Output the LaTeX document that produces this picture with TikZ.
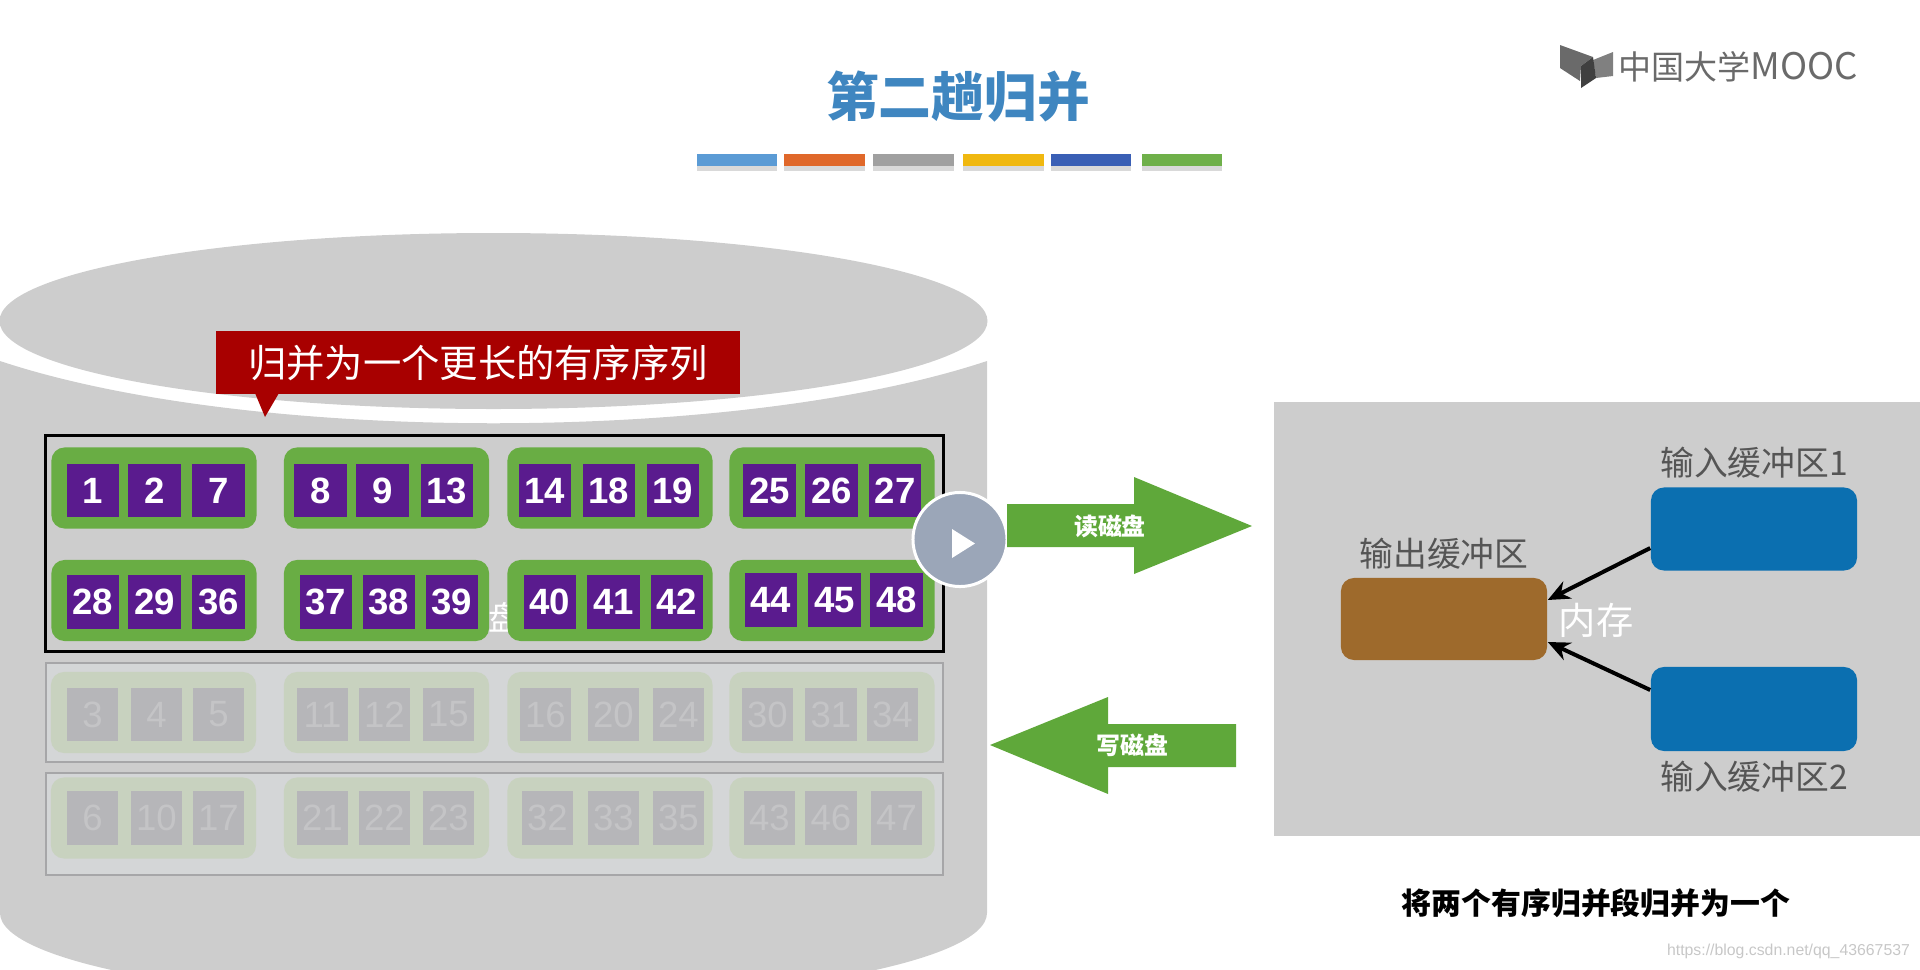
\documentclass[tikz,border=0pt]{standalone}
\usepackage{fontspec}
\setmainfont{Liberation Sans}
\newfontfamily\cjk{Noto Sans CJK SC}
\usetikzlibrary{positioning, arrows.meta, shadows}
\definecolor{diskgray}{HTML}{CDCDCD}
\definecolor{cellpurple}{HTML}{5A1B8E}
\definecolor{groupgreen}{HTML}{69AD44}
\definecolor{arrowgreen}{HTML}{5FA83A}
\definecolor{fadegreen}{HTML}{C8D2BF}
\definecolor{fadecell}{HTML}{B6B6B9}
\definecolor{fadetext}{HTML}{C4C4C6}
\definecolor{fadebox}{HTML}{D4D6D7}
\definecolor{fadeline}{HTML}{A6A6A8}
\definecolor{calloutred}{HTML}{A80000}
\definecolor{titleblue}{HTML}{3F86C0}
\definecolor{bufblue}{HTML}{0B6FB0}
\definecolor{bufbrown}{HTML}{9E6A2C}
\definecolor{labelgray}{HTML}{555555}
\definecolor{logogray}{HTML}{6A6A6A}
\definecolor{playgray}{HTML}{9BA6B8}
\tikzset{
    cellbox/.style={fill=cellpurple, text=white, minimum width=0.52cm, minimum height=0.53cm, inner sep=0pt, font=\bfseries\fontsize{10.4}{12}\selectfont},
    fadecellbox/.style={fill=fadecell, text=fadetext, minimum width=0.51cm, minimum height=0.53cm, inner sep=0pt, font=\fontsize{10.4}{12}\selectfont},
    groupbox/.style={fill=groupgreen, rounded corners=0.13cm, minimum width=2.05cm, minimum height=0.81cm, inner sep=0pt},
    fadegroupbox/.style={groupbox, fill=fadegreen},
    bufbox/.style={rounded corners=0.13cm, minimum width=2.06cm, minimum height=0.83cm, inner sep=0pt},
    buflabel/.style={text=labelgray, inner sep=0pt, font=\cjk\fontsize{9.6}{11}\selectfont},
    arrowlabel/.style={text=white, inner sep=0pt, font=\cjk\bfseries\fontsize{6.8}{8}\selectfont},
    barbox/.style={minimum width=0.8cm, minimum height=0.12cm, inner sep=0pt, general shadow={fill=black, opacity=0.15, shadow yshift=-0.05cm}},
}
\begin{document}
\begin{tikzpicture}[x=0.01cm, y=-0.01cm]
    \useasboundingbox (0,0) rectangle (1920,969);
    \clip (0,0) rectangle (1920,969);

    % title and colour bars
    \node[text=titleblue, inner sep=0pt, font=\cjk\bfseries\fontsize{15}{16}\selectfont] (title) at (958,97) {第二趟归并};
    \foreach \barname/\nx/\col in {a/737/5B9BD5, b/824.5/E0682A, c/913.5/A0A0A0, d/1003.5/F0B810, e/1091/3A5FB5, f/1182/6FB04A} {
        \definecolor{barcol}{HTML}{\col}
        \node[barbox, fill=barcol] (bar\barname) at (\nx,160) {};
    }

    % logo
    \fill[logogray] (1560,45) -- (1593,57) -- (1581,66) -- (1580,81) -- (1560,68) -- cycle;
    \fill[logogray!85] (1593,60) -- (1613,52) -- (1613,76) -- (1596,78) -- cycle;
    \fill[black!75] (1593,57) -- (1581,66) -- (1581,88) -- (1596,78) -- cycle;
    \node[text=logogray, inner sep=0pt, anchor=west, font=\cjk\fontsize{9.4}{11}\selectfont] (logo) at (1618,67) {中国大学{\fontsize{10.4}{11}\selectfont MOOC}};

    % disk
    \fill[diskgray] (0,361) .. controls (250,444) and (737,444) .. (987,361) -- (987,913) arc[start angle=0, end angle=180, x radius=493.5, y radius=90] -- cycle;
    \fill[diskgray] (493.5,321) ellipse [x radius=494, y radius=88];

    % callout
    \fill[calloutred] (255,393) -- (265,417) -- (279,393) -- cycle;
    \node[fill=calloutred, text=white, minimum width=5.24cm, minimum height=0.63cm, inner sep=0pt, font=\cjk\fontsize{10.9}{12}\selectfont] (callout) at (478,362.5) {归并为一个更长的有序序列};

    % faded runs
    \node[fill=fadebox, draw=fadeline, line width=0.02cm, minimum width=8.97cm, minimum height=0.99cm] (run2) at (494.5,712.5) {};
    \node[fill=fadebox, draw=fadeline, line width=0.02cm, minimum width=8.97cm, minimum height=1.02cm] (run3) at (494.5,824) {};
    \foreach \nx/\ny in {153.5/712.5, 386.5/712.5, 610/712.5, 832/712.5, 153.5/818, 386.5/818, 610/818, 832/818}
        \node[fadegroupbox] at (\nx,\ny) {};
    \foreach \nx/\lab in {92.5/3, 156.5/4, 218.5/5, 322.5/11, 384.5/12, 448.5/15, 545.5/16, 613.5/20, 678.5/24, 767.5/30, 831/31, 892.5/34}
        \node[fadecellbox] (c\lab) at (\nx,714.5) {\lab};
    \foreach \nx/\lab in {92.5/6, 156.5/10, 218.5/17, 322.5/21, 384.5/22, 448.5/23, 547.5/32, 613.5/33, 678.5/35, 769.5/43, 831/46, 896.5/47}
        \node[fadecellbox] (c\lab) at (\nx,818) {\lab};

    % current run
    \node[text=white, inner sep=0pt, font=\cjk\fontsize{9.4}{11}\selectfont] (hidden) at (505,617) {盘};
    \foreach \nx/\ny in {154/488, 386.5/488, 610/488, 832/488, 154/600.5, 386.5/600.5, 610/600.5, 832/600.5}
        \node[groupbox] at (\nx,\ny) {};
    \foreach \nx/\lab in {93/1, 154.5/2, 218.5/7, 320.5/8, 382.5/9, 447/13, 545/14, 609/18, 673/19, 769.5/25, 831.5/26, 895/27}
        \node[cellbox] (c\lab) at (\nx,490.5) {\lab};
    \foreach \nx/\ny/\lab in {93/602/28, 154.5/602/29, 218.5/602/36, 326/602/37, 389/602/38, 452/602/39, 550/602/40, 613.5/602/41, 677/602/42, 771/600/44, 834.5/600/45, 896.5/600/48}
        \node[cellbox] (c\lab) at (\nx,\ny) {\lab};
    \node[draw=black, line width=0.03cm, minimum width=8.97cm, minimum height=2.15cm] (run1) at (494.5,543.5) {};

    % play button
    \node[circle, fill=playgray, draw=white, line width=0.03cm, minimum size=0.94cm, inner sep=0pt] (play) at (960,539.5) {};
    \fill[white] (952,529) -- (952,558) -- (975,543.5) -- cycle;

    % read and write arrows
    \fill[arrowgreen] (1007,504) -- (1134,504) -- (1134,477) -- (1252,526) -- (1134,574) -- (1134,547) -- (1007,547) -- cycle;
    \node[arrowlabel] (read) at (1110,526) {读磁盘};
    \fill[arrowgreen] (1236,724) -- (1108,724) -- (1108,697) -- (990,745) -- (1108,794) -- (1108,767) -- (1236,767) -- cycle;
    \node[arrowlabel] (write) at (1132.5,745) {写磁盘};

    % memory
    \fill[diskgray] (1273.5,402) rectangle (1920,836);
    \node[bufbox, fill=bufblue] (in1) at (1754,529) {};
    \node[bufbox, fill=bufblue, minimum height=0.84cm] (in2) at (1754,709) {};
    \node[bufbox, fill=bufbrown, minimum height=0.82cm] (out) at (1444,619) {};
    \node[buflabel] (in1label) at (1754,463) {输入缓冲区1};
    \node[buflabel] (outlabel) at (1444,553.5) {输出缓冲区};
    \node[buflabel] (in2label) at (1754,777) {输入缓冲区2};
    \node[text=white, inner sep=0pt, font=\cjk\fontsize{10.6}{12}\selectfont] (mem) at (1596,620) {内存};
    \draw[-{Stealth[length=0.22cm, width=0.19cm]}, line width=0.04cm] ([yshift=-0.19cm]in1.west) -- ([yshift=0.19cm]out.east);
    \draw[-{Stealth[length=0.22cm, width=0.19cm]}, line width=0.04cm] ([yshift=0.19cm]in2.west) -- ([yshift=-0.23cm]out.east);

    % caption and watermark
    \node[inner sep=0pt, font=\cjk\bfseries\fontsize{8.5}{10}\selectfont] (caption) at (1596,903) {将两个有序归并段归并为一个};
    \node[text=black!22, inner sep=0pt, font=\fontsize{4.5}{5}\selectfont] (mark) at (1788.5,951) {https://blog.csdn.net/qq\_43667537};
\end{tikzpicture}
\end{document}
